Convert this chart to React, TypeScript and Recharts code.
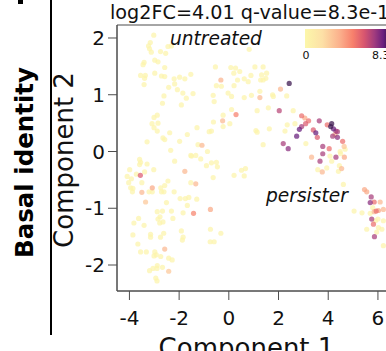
import { ScatterChart, Scatter, XAxis, YAxis, ReferenceArea } from 'recharts';

type Pt = [number, number, number]; // component 1, component 2, score

// upper-left cells (untreated cloud)
const upperLeft: Pt[] = [
  [-3.02, 2.05, 0.2], [-3.16, 1.92, 0.2], [-3.23, 1.86, 0.2], [-3.19, 1.81, 0.2], [-3.12, 1.75, 0.2],
  [-2.75, 1.76, 0.2], [-2.54, 1.73, 0.2], [-2.45, 1.85, 0.2], [-2.31, 1.86, 0.2], [-2.98, 1.61, 0.2],
  [-2.85, 1.58, 0.2], [-2.58, 1.48, 0.2], [-3.41, 1.57, 0.2], [-3.45, 1.53, 0.2], [-3.55, 1.34, 0.2],
  [-3.36, 1.34, 0.2], [-3.39, 1.29, 0.2], [-3.41, 1.18, 0.2], [-2.98, 1.38, 0.2], [-2.71, 1.33, 0.2],
  [-2.58, 1.32, 0.2], [-2.2, 1.28, 0.2], [-1.98, 1.31, 0.2], [-1.53, 1.36, 0.2], [-2.42, 1.13, 0.2],
  [-2.18, 1.19, 0.2], [-2.07, 1.09, 0.2], [-1.77, 1.28, 0.2], [-1.85, 1.03, 0.2], [-1.71, 0.94, 0.2],
  [-1.44, 1.02, 0.2], [-2.61, 0.98, 0.2], [-2.67, 0.85, 0.2], [-1.91, 0.82, 0.2],
  [-3.01, 0.6, 0.2], [-2.88, 0.64, 0.2], [-2.85, 0.5, 0.2], [-3.09, 0.49, 0.2], [-3.01, 0.42, 0.2],
  [-2.88, 0.36, 0.2], [-2.65, 0.24, 0.2], [-2.58, 0.21, 0.2], [-3.29, 0.17, 0.2], [-3.59, -0.14, 0.2],
  [-2.38, 0.33, 0.2], [-1.98, 0.18, 0.2], [-1.67, 0.3, 0.2], [-1.28, 0.42, 0.2],
];

// upper-middle cells
const upperMid: Pt[] = [
  [-0.54, 1.49, 0.2], [-0.32, 1.26, 3.2], [0.08, 1.48, 0.2], [0.27, 1.47, 0.2], [0.2, 1.38, 0.2],
  [0.44, 1.41, 0.2], [0.35, 1.26, 0.2], [0.21, 1.16, 0.2], [0.62, 1.28, 0.2], [0.89, 1.34, 0.2],
  [0.78, 1.23, 0.2], [-0.5, 1.16, 0.2], [-0.3, 1.15, 0.2], [-0.03, 1.03, 0.2], [0.11, 0.97, 0.2],
  [-0.63, 0.99, 0.2], [-0.59, 0.88, 0.2], [0.62, 0.95, 0.2], [0.91, 0.99, 0.2], [0.11, 0.74, 0.2],
  [0.29, 0.65, 4.6], [-0.23, 0.64, 0.2], [-0.25, 0.54, 3.0], [-0.62, 0.52, 0.2], [0.04, 0.49, 0.2],
  [-0.23, 0.44, 0.2], [-0.7, 0.36, 0.2], [-0.79, 0.35, 0.2], [-1.08, 0.11, 3.0], [-1.24, 0.12, 0.2],
  [-1.5, -0.08, 0.2], [0.82, 1.8, 0.2],
  [1.05, 1.49, 0.2], [1.38, 1.49, 0.2], [1.32, 1.35, 0.2], [1.52, 1.38, 0.2], [1.49, 1.29, 0.2],
  [1.28, 1.26, 0.2], [1.38, 1.26, 0.2], [2.43, 1.2, 8.0], [2.08, 1.1, 3.0], [2.33, 0.98, 0.2],
  [1.76, 1.0, 0.2], [1.79, 0.97, 0.2], [1.25, 1.06, 0.2], [1.25, 0.95, 3.0], [1.59, 0.77, 0.2],
  [1.14, 0.72, 0.2], [2.03, 0.72, 6.2], [2.59, 0.72, 0.2], [1.09, 0.37, 0.2], [1.14, 0.34, 0.2],
  [1.63, 0.4, 0.2], [2.26, 0.36, 0.2], [2.35, 0.47, 0.2], [2.66, 0.49, 0.2], [1.38, 0.12, 0.2],
];

// persister arc
const persisterArc: Pt[] = [
  [2.93, 0.63, 5.0], [3.06, 0.59, 3.5], [3.21, 0.54, 5.0], [3.09, 0.49, 5.5], [2.93, 0.44, 6.5],
  [2.84, 0.39, 7.5], [2.73, 0.27, 7.5], [3.4, 0.38, 5.5], [3.5, 0.33, 7.5], [3.64, 0.54, 6.5],
  [3.56, 0.25, 5.5], [3.96, 0.47, 5.0], [4.14, 0.49, 8.0], [4.1, 0.44, 8.0], [4.21, 0.4, 7.5],
  [4.31, 0.36, 6.5], [4.37, 0.35, 6.5], [4.27, 0.3, 3.0], [4.18, 0.27, 6.5], [4.37, 0.25, 7.0],
  [4.58, 0.18, 5.0], [4.64, 0.09, 2.5], [4.68, 0.04, 0.2], [4.48, 0.0, 0.2], [4.5, -0.04, 0.2],
  [4.04, 0.05, 5.0], [3.78, 0.09, 6.5], [3.78, -0.04, 6.5], [4.31, -0.1, 6.5], [4.65, -0.1, 3.5],
  [3.1, 0.14, 0.2], [2.19, 0.14, 6.5], [2.39, 0.05, 7.0], [3.33, -0.1, 3.0], [4.07, -0.08, 0.2],
  [3.67, -0.17, 6.5], [3.76, -0.36, 3.0], [3.58, -0.32, 0.2], [3.94, -0.29, 0.2], [4.14, -0.17, 0.2],
  [4.45, -0.25, 0.2], [4.54, -0.3, 3.0], [4.41, -0.35, 0.2], [4.61, -0.58, 0.2],
];

// right-hand persister cluster
const persisterRight: Pt[] = [
  [5.46, -0.67, 3.5], [5.55, -0.71, 3.5], [5.73, -0.8, 6.5], [5.69, -0.9, 7.0], [5.85, -0.89, 5.0],
  [6.09, -0.89, 3.0], [5.79, -0.99, 0.2], [5.93, -1.05, 5.0], [6.02, -1.04, 3.5], [5.85, -1.06, 3.0],
  [6.22, -1.02, 3.0], [5.69, -1.09, 0.2], [5.04, -1.05, 0.2], [5.36, -1.08, 0.2], [5.75, -1.19, 6.5],
  [6.0, -1.19, 0.2], [5.9, -1.22, 0.2], [6.22, -1.22, 0.2], [5.82, -1.28, 5.0], [6.02, -1.34, 0.2],
  [6.16, -1.37, 0.2], [5.95, -1.42, 0.2], [5.55, -1.37, 0.2], [5.86, -1.5, 6.5], [6.22, -1.66, 0.2],
];

// lower-left cells
const lowerLeft: Pt[] = [
  [-2.34, 0.02, 0.2], [-1.53, -0.07, 0.2], [-1.33, -0.07, 0.2], [-1.13, -0.13, 0.2], [-0.86, 0.0, 0.2],
  [-0.7, -0.2, 0.2], [-0.5, -0.19, 0.2], [-0.46, -0.27, 0.2], [-0.9, -0.25, 0.2], [-2.18, -0.17, 0.2],
  [-1.77, -0.35, 3.0], [-0.63, -0.46, 0.2], [0.21, -0.42, 0.2], [0.51, -0.33, 0.2], [0.62, -0.43, 0.2],
  [0.67, -0.3, 0.2], [-3.55, -0.19, 0.2], [-3.59, -0.23, 0.2], [-3.29, -0.22, 0.2], [-3.99, -0.32, 0.2],
  [-3.72, -0.4, 0.2], [-3.56, -0.42, 5.5], [-3.39, -0.36, 0.2], [-3.02, -0.32, 0.2], [-4.09, -0.44, 0.2],
  [-3.92, -0.48, 0.2], [-4.03, -0.55, 0.2], [-3.95, -0.64, 0.2], [-3.86, -0.65, 0.2], [-3.88, -0.71, 0.2],
  [-3.5, -0.55, 0.2], [-3.5, -0.72, 3.0], [-3.35, -0.89, 2.5], [-3.21, -0.71, 0.2], [-3.08, -0.71, 0.2],
  [-3.08, -0.64, 3.5], [-2.74, -0.64, 0.2], [-2.71, -0.71, 0.2], [-2.58, -0.6, 0.2], [-2.45, -0.52, 0.2],
  [-2.61, -0.71, 0.2], [-2.2, -0.71, 0.2], [-2.51, -0.9, 0.2], [-1.53, -0.55, 0.2], [-1.33, -0.57, 3.0],
  [-1.67, -0.95, 0.2], [-1.96, -0.83, 0.2], [-1.75, -0.83, 0.2], [-1.61, -0.81, 0.2], [-1.29, -0.84, 0.2],
  [-1.84, -1.08, 0.2], [-1.42, -1.09, 4.5], [-0.74, -1.02, 3.5], [-2.31, -1.05, 0.2], [-2.88, -1.06, 0.2],
  [-2.67, -1.05, 0.2], [-2.77, -1.15, 0.2], [-2.85, -1.19, 0.2], [-2.65, -1.24, 0.2], [-2.78, -1.26, 0.2],
  [-2.25, -1.18, 0.2], [-3.63, -1.18, 0.2], [-3.82, -1.26, 0.2], [-3.41, -1.3, 0.2], [-1.91, -1.4, 0.2],
  [-1.84, -1.51, 0.2], [-1.87, -1.56, 0.2], [-0.74, -1.37, 0.2], [-0.32, -1.44, 0.2], [-0.75, -1.59, 0.2],
  [-0.59, -1.59, 0.2], [-3.15, -1.46, 0.2], [-3.15, -1.51, 0.2], [-2.75, -1.51, 0.2], [-2.62, -1.44, 0.2],
  [-3.86, -1.47, 0.2], [-3.66, -1.63, 0.2], [-3.55, -1.77, 0.2], [-3.32, -1.77, 0.2], [-2.98, -1.77, 0.2],
  [-2.92, -1.82, 0.2], [-3.01, -1.84, 0.2], [-2.74, -1.85, 0.2], [-2.58, -1.72, 3.0], [-2.42, -1.88, 0.2],
  [-2.28, -1.91, 0.2], [-3.19, -2.1, 0.2], [-3.05, -2.06, 0.2], [-2.88, -2.01, 0.2], [-2.89, -2.06, 0.2],
  [-2.67, -2.04, 0.2], [-2.42, -2.11, 2.5], [-2.94, -2.23, 0.2], [-2.89, -2.28, 0.2],
];

const xTicks = [-4, -2, 0, 2, 4, 6];
const yTicks = [-2, -1, 0, 1, 2];
const xDomain = [-4.5, 7.5];
const yDomain = [-2.458, 2.229];
const scoreMax = 8.3;

// reversed magma-ish palette as seen in the colour bar
const STOPS: [number, string][] = [
  [0, '#fcf7aa'],
  [0.2, '#fde0a6'],
  [0.4, '#fbb08c'],
  [0.55, '#f7806c'],
  [0.68, '#d8566f'],
  [0.8, '#a03b7e'],
  [0.9, '#6a1e7e'],
  [1, '#1e0c30'],
];

function hex(h: string) {
  return [1, 3, 5].map((i) => parseInt(h.slice(i, i + 2), 16));
}

function scoreColor(v: number) {
  const t = Math.max(0, Math.min(1, v / scoreMax));
  for (let i = 1; i < STOPS.length; i++) {
    if (t <= STOPS[i][0]) {
      const [t0, c0] = STOPS[i - 1];
      const [t1, c1] = STOPS[i];
      const f = (t - t0) / (t1 - t0);
      const a = hex(c0);
      const b = hex(c1);
      const rgb = a.map((x, k) => Math.round(x + (b[k] - x) * f));
      return `rgb(${rgb.join(',')})`;
    }
  }
  return STOPS[STOPS.length - 1][1];
}

const points = [...upperLeft, ...upperMid, ...persisterArc, ...persisterRight, ...lowerLeft]
  .map(([x, y, v]) => ({ x, y, v }))
  .sort((a, b) => a.v - b.v);

const FONT = 'DejaVu Sans';
const tickStyle = { fontSize: 20, fill: '#111', fontFamily: FONT };

const Dot = (p: any) => (
  <circle cx={p.cx} cy={p.cy} r={2.6} fill={scoreColor(p.payload.v)} fillOpacity={0.72} />
);

export default function App() {
  return (
    <div style={{ position: 'absolute', left: 0, top: 0, width: 386, height: 351, overflow: 'hidden', background: '#fff' }}>
      <ScatterChart width={420} height={370} margin={{ top: 25, right: 4.8, bottom: 39, left: 57 }}>
        <XAxis
          type="number"
          dataKey="x"
          domain={xDomain}
          ticks={xTicks}
          allowDataOverflow
          height={40}
          tickSize={9}
          tickMargin={11}
          tick={tickStyle}
          stroke="#4d4d4d"
        />
        <YAxis
          type="number"
          dataKey="y"
          domain={yDomain}
          ticks={yTicks}
          allowDataOverflow
          width={60}
          tickSize={9}
          tickMargin={3}
          tick={tickStyle}
          stroke="#4d4d4d"
        />
        <ReferenceArea
          x1={xDomain[0]}
          x2={xDomain[1]}
          y1={yDomain[0]}
          y2={yDomain[1]}
          fill="none"
          stroke="#4d4d4d"
          strokeWidth={1}
          ifOverflow="visible"
        />
        <Scatter data={points} shape={Dot} isAnimationActive={false} />
      </ScatterChart>
      <svg
        width={386}
        height={351}
        style={{ position: 'absolute', left: 0, top: 0, pointerEvents: 'none' }}
        fontFamily={FONT}
      >
        <defs>
          <linearGradient id="cbar" x1="0" x2="1" y1="0" y2="0">
            {STOPS.map(([t, c]) => (
              <stop key={t} offset={t} stopColor={c} />
            ))}
          </linearGradient>
        </defs>
        <rect x={18} y={0} width={5} height={4} fill="#000" />
        <line x1={51} y1={0} x2={51} y2={335} stroke="#000" strokeWidth={2} />
        <text
          transform="translate(33,162.5) rotate(-90)"
          textAnchor="middle"
          fontSize={24.5}
          fontWeight="bold"
          fill="#000"
        >
          Basal identity
        </text>
        <text transform="translate(73,160) rotate(-90)" textAnchor="middle" fontSize={26} fill="#111">
          Component 2
        </text>
        <text x={246.5} y={357} textAnchor="middle" fontSize={26} fill="#111">
          Component 1
        </text>
        <text x={110} y={18.5} fontSize={19.2} fill="#111">
          log2FC=4.01 q-value=8.3e-10
        </text>
        <text x={170} y={45} fontSize={18.6} fontStyle="italic" fill="#111">
          untreated
        </text>
        <text x={266} y={202} fontSize={18.6} fontStyle="italic" fill="#111">
          persister
        </text>
        <rect x={305} y={29} width={87} height={19} fill="url(#cbar)" />
        <text x={306} y={59} textAnchor="middle" fontSize={11} fill="#111">
          0
        </text>
        <text x={372} y={59} fontSize={11} fill="#111">
          8.3
        </text>
      </svg>
    </div>
  );
}
